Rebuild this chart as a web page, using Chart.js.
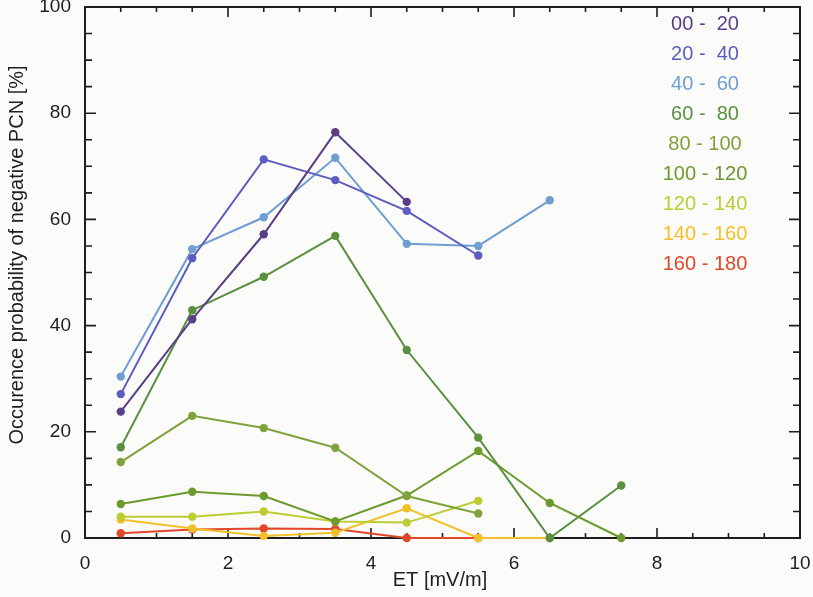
<!DOCTYPE html>
<html>
<head>
<meta charset="utf-8">
<script src="https://cdn.jsdelivr.net/npm/chart.js@4/dist/chart.umd.min.js"></script>
<style>
  html, body { margin: 0; padding: 0; background: #fbfbf9; }
  #wrap { width: 813px; height: 597px; }
</style>
</head>
<body>
<div id="wrap"><canvas id="pcnChart" width="813" height="597"></canvas></div>
<script>
// ET bin centres (mV/m), shared by every series
const etValues = [0.5, 1.5, 2.5, 3.5, 4.5, 5.5, 6.5, 7.5];

// occurrence probability of negative PCN [%], one array per clock-angle bin
const p00_20 = [23.8, 41.2, 57.2, 76.4, 63.3];
const p20_40 = [27.1, 52.7, 71.3, 67.4, 61.6, 53.2];
const p40_60 = [30.4, 54.4, 60.4, 71.6, 55.4, 55.0, 63.6];
const p60_80 = [17.1, 42.9, 49.2, 56.9, 35.4, 18.9, 0, 9.9];
const p80_100 = [14.3, 23.0, 20.7, 17.0, 7.9, 4.6];
const p100_120 = [6.4, 8.7, 7.9, 3.1, 8.0, 16.4, 6.6, 0];
const p120_140 = [4.0, 4.0, 5.0, 3.1, 2.9, 7.0];
const p140_160 = [3.5, 1.8, 0.4, 1.0, 5.6, 0, 0];
const p160_180 = [0.9, 1.6, 1.8, 1.7, 0, 0, 0];

const binLabels = ['00 -  20', '20 -  40', '40 -  60', '60 -  80', '80 - 100',
  '100 - 120', '120 - 140', '140 - 160', '160 - 180'];
const binSeries = [p00_20, p20_40, p40_60, p60_80, p80_100, p100_120, p120_140, p140_160, p160_180];
const binColors = ['#5b3f86', '#5d5cc0', '#6f9fd2', '#5a9040', '#7fa23c',
  '#6c9a2c', '#bccd32', '#f2c12a', '#e2472a'];

const xTicks = [0, 2, 4, 6, 8, 10];
const yTicks = [0, 20, 40, 60, 80, 100];

const FONT = '"Liberation Sans", Arial, Helvetica, sans-serif';
const INK = '#1e1e1e';

function toPoints(series) {
  return series.map((v, i) => ({ x: etValues[i], y: v }));
}

// frame with inward ticks on all four sides, titles and the coloured bin list
const framePlugin = {
  id: 'frame',
  beforeDatasetsDraw(chart) {
    const { ctx, chartArea: a, scales } = chart;
    const xs = scales.x, ys = scales.y;
    ctx.save();
    ctx.strokeStyle = INK;
    ctx.lineWidth = 1.6;
    ctx.beginPath();
    for (let v = 0; v <= 10.001; v += 0.5) {
      const px = xs.getPixelForValue(v);
      const len = Math.abs(v % 2) < 0.01 ? 10 : 5;
      ctx.moveTo(px, a.bottom); ctx.lineTo(px, a.bottom - len);
      ctx.moveTo(px, a.top); ctx.lineTo(px, a.top + len);
    }
    for (let v = 0; v <= 100.001; v += 5) {
      const py = ys.getPixelForValue(v);
      const len = v % 20 === 0 ? 11 : 7;
      ctx.moveTo(a.left, py); ctx.lineTo(a.left + len, py);
      ctx.moveTo(a.right, py); ctx.lineTo(a.right - len, py);
    }
    ctx.stroke();
    ctx.lineWidth = 2;
    ctx.strokeRect(a.left, a.top, a.right - a.left, a.bottom - a.top);
    ctx.restore();
  },
  afterDraw(chart) {
    const { ctx } = chart;
    ctx.save();
    ctx.fillStyle = INK;
    ctx.font = '20px ' + FONT;
    ctx.textAlign = 'center';
    ctx.textBaseline = 'middle';
    ctx.fillText('ET [mV/m]', 440, 580);
    ctx.translate(17, 255);
    ctx.rotate(-Math.PI / 2);
    ctx.fillText('Occurence probability of negative PCN [%]', 0, 0);
    ctx.restore();

    ctx.save();
    ctx.font = '20px ' + FONT;
    ctx.textAlign = 'center';
    ctx.textBaseline = 'middle';
    chart.data.datasets.forEach((ds, i) => {
      ctx.fillStyle = ds.borderColor;
      ctx.fillText(ds.label, 705, 24 + i * 30);
    });
    ctx.restore();
  },
};

new Chart(document.getElementById('pcnChart').getContext('2d'), {
  type: 'line',
  data: {
    datasets: binSeries.map((s, i) => ({
      label: binLabels[i],
      data: toPoints(s),
      borderColor: binColors[i],
      backgroundColor: binColors[i],
      borderWidth: 2,
      pointRadius: 4.2,
      pointBorderWidth: 0,
      pointHoverRadius: 4.2,
      fill: false,
      tension: 0,
      clip: false,
    })),
  },
  options: {
    responsive: false,
    animation: false,
    events: [],
    layout: { padding: { left: 0, right: 13, top: 7, bottom: 0 } },
    plugins: { legend: { display: false }, tooltip: { enabled: false } },
    scales: {
      x: {
        type: 'linear',
        min: 0,
        max: 10,
        afterFit: (s) => { s.height = 59; s.paddingLeft = 0; s.paddingRight = 0; },
        afterBuildTicks: (s) => { s.ticks = xTicks.map((v) => ({ value: v })); },
        grid: { display: false },
        border: { display: false },
        ticks: { color: INK, padding: 6, maxRotation: 0, font: { size: 19, family: FONT } },
      },
      y: {
        type: 'linear',
        min: 0,
        max: 100,
        afterFit: (s) => { s.width = 85; s.paddingTop = 0; s.paddingBottom = 0; },
        afterBuildTicks: (s) => { s.ticks = yTicks.map((v) => ({ value: v })); },
        grid: { display: false },
        border: { display: false },
        ticks: { color: INK, padding: 6, font: { size: 19, family: FONT } },
      },
    },
  },
  plugins: [framePlugin],
});
</script>
</body>
</html>
